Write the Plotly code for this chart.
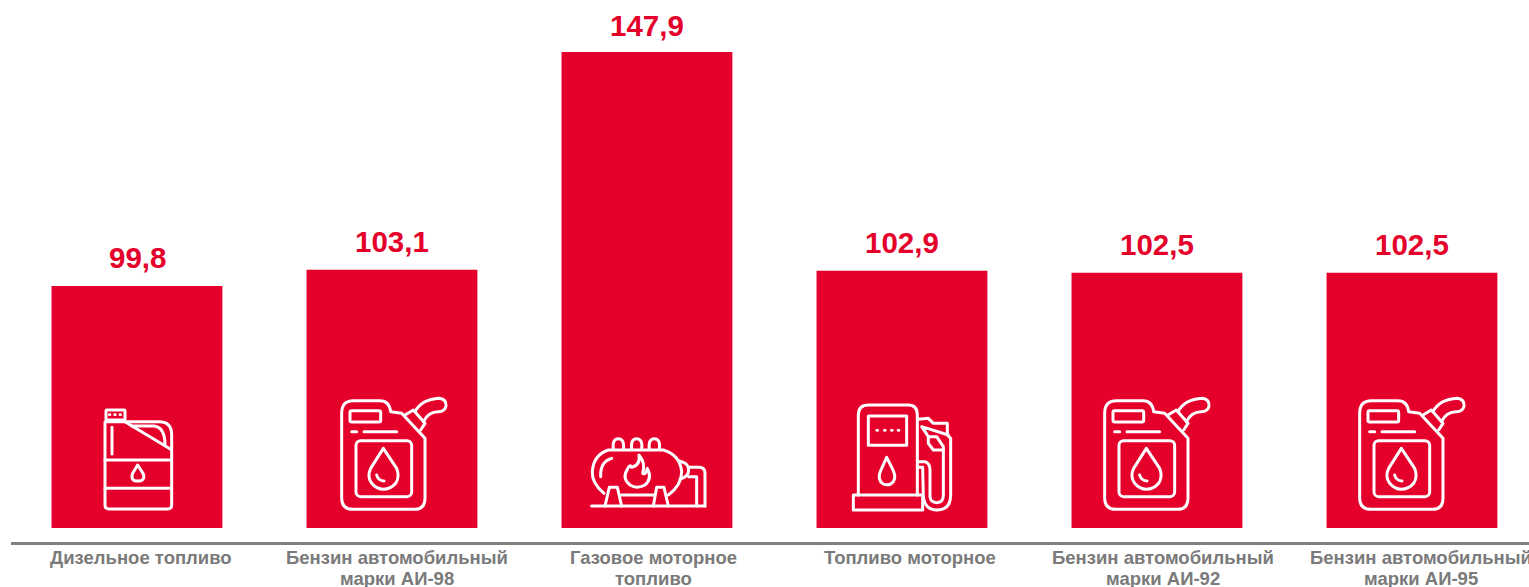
import base64
import plotly.graph_objects as go

categories = ["Дизельное топливо", "Бензин автомобильный марки АИ-98", "Газовое моторное топливо",
              "Топливо моторное", "Бензин автомобильный марки АИ-92", "Бензин автомобильный марки АИ-95"]
label_line1 = ["Дизельное топливо", "Бензин автомобильный", "Газовое моторное",
               "Топливо моторное", "Бензин автомобильный", "Бензин автомобильный"]
label_line2 = ["", "марки АИ-98", "топливо", "", "марки АИ-92", "марки АИ-95"]
values = [99.8, 103.1, 147.9, 102.9, 102.5, 102.5]
AXIS_BASE = 50

W, H = 1529, 587
ML, MB = 11, 45
RED = "#E4002B"
GREY = "#7F7F7F"
TEXT_GREY = "#7A7A7A"
FONT = "Liberation Sans, Arial, sans-serif"
LABEL_XSHIFT = [4, 5, 7, 8, 6.5, 9]
VALUE_YSHIFT = [10, 10, 8, 10, 10, 10]

CANISTER = """
<path d="M1025 100 Q1025 62 1060 62 L1140 62 Q1168 62 1172 95 L1205 100 L1275 175 L1275 355 Q1275 388 1245 388 L1058 388 Q1025 388 1025 355 Z"/>
<rect x="1050" y="92" width="92" height="34" rx="5"/>
<path d="M1055 155 L1070 155 M1092 155 L1190 155"/>
<rect x="1068" y="182" width="167" height="168" rx="14"/>
<path d="M1150 205 L1112 265 Q1100 290 1115 310 Q1130 328 1150 328 Q1172 328 1187 310 Q1200 290 1190 265 Z"/>
<path d="M1130 285 Q1134 302 1152 303"/>
<path d="M1215 105 L1240 90 L1275 130 L1262 150"/>
<path d="M1245 95 Q1265 58 1318 55 Q1340 58 1338 78 Q1335 95 1315 95 Q1285 95 1270 125"/>
"""
JERRYCAN = """
<rect x="318" y="90" width="57" height="30" rx="2"/>
<path d="M328 104 L330 104 M344 104 L346 104 M360 104 L362 104" stroke-width="8"/>
<path d="M315 125 L478 125 Q515 125 515 165 L515 375 Q515 387 503 387 L327 387 Q315 387 315 375 Z"/>
<path d="M375 125 L512 208"/>
<path d="M395 138 L462 138 Q495 142 495 195"/>
<path d="M336 142 L336 222"/>
<path d="M315 240 L515 240 M315 325 L515 325"/>
<path d="M413 255 L398 280 Q390 303 413 303 Q438 303 429 280 Z"/>
"""
GAS_TANK = """
<path d="M155 378 L495 378"/>
<path d="M192 340 Q155 310 157 275 Q160 225 205 210 L370 210 Q420 225 425 275 Q425 315 385 345"/>
<path d="M220 208 Q216 176 235 176 Q254 176 250 208 M275 208 Q271 176 290 176 Q309 176 305 208 M328 208 Q324 176 343 176 Q362 176 358 208"/>
<path d="M195 378 L208 322 L232 322 L245 378 M340 378 L350 322 L372 322 L385 378 M245 345 L340 345"/>
<path d="M182 290 Q180 245 215 235"/>
<path d="M297 225 Q302 255 275 262 Q270 250 262 268 Q245 295 270 315 Q290 328 315 315 Q338 295 322 265 Q318 285 308 280 Q318 250 297 225 Z"/>
<path d="M418 243 Q448 250 446 270 Q446 290 420 297"/>
<path d="M446 262 L480 262 Q495 264 495 280 L495 378 M470 378 L470 290 L446 290"/>
"""
PUMP = """
<path d="M955 345 L955 105 Q955 75 985 75 L1105 75 Q1132 75 1132 105 L1132 345"/>
<rect x="940" y="345" width="208" height="45"/>
<rect x="985" y="108" width="115" height="88"/>
<path d="M1010 151 L1013 151 M1033 151 L1036 151 M1054 151 L1057 151 M1074 151 L1077 151" stroke-width="8"/>
<path d="M1040 232 L1022 272 Q1010 300 1030 312 Q1040 317 1052 312 Q1072 300 1060 272 Z"/>
<path d="M1135 245 L1155 245 Q1170 250 1170 270 L1170 350 Q1172 368 1190 368 Q1210 368 1210 345 L1210 210"/>
<path d="M1135 262 L1148 262 L1150 350 Q1155 390 1190 390 Q1232 390 1232 345 L1232 175 L1222 165 L1222 130 L1180 130 L1165 115 L1135 118"/>
<path d="M1165 170 L1190 170 L1210 200 L1210 210 L1180 210 L1165 190 Z M1165 170 L1145 140 L1225 165"/>
"""


def icon_uri(body, x0, y0, w, h):
    svg = (f'<svg xmlns="http://www.w3.org/2000/svg" viewBox="{x0} {y0} {w} {h}" width="{w}" height="{h}">'
           f'<g fill="none" stroke="white" stroke-width="9" stroke-linecap="round" stroke-linejoin="round">{body}</g></svg>')
    return "data:image/svg+xml;base64," + base64.b64encode(svg.encode("utf-8")).decode()


def place(body, crop_x, crop_y, box, dx=0, dy=0):
    x0, y0, x1, y1 = box
    w, h = x1 - x0, y1 - y0
    left = crop_x + x0 / 3 + dx
    top = crop_y + y0 / 3 + dy
    return dict(source=icon_uri(body, x0, y0, w, h), xref="paper", yref="paper",
                x=(left - ML) / (W - ML), y=1 - top / (H - MB),
                sizex=(w / 3) / (W - ML), sizey=(h / 3) / (H - MB),
                xanchor="left", yanchor="top", sizing="stretch", layer="above")


CAN_BOX = (1010, 40, 1350, 400)
images = [
    place(JERRYCAN, 0, 380, (305, 80, 525, 397)),
    place(CANISTER, 0, 380, CAN_BOX),
    place(GAS_TANK, 540, 380, (145, 165, 505, 390)),
    place(PUMP, 540, 380, (930, 65, 1245, 400)),
    place(CANISTER, 0, 380, CAN_BOX, dx=763),
    place(CANISTER, 0, 380, CAN_BOX, dx=1018),
]

fig = go.Figure(go.Bar(
    x=categories,
    y=[v - AXIS_BASE for v in values],
    base=AXIS_BASE,
    marker=dict(color=RED, line_width=0),
    hovertext=[f"{v:.1f}".replace(".", ",") for v in values],
    hoverinfo="text",
))

for c, v, ys in zip(categories, values, VALUE_YSHIFT):
    fig.add_annotation(x=c, y=v, text=f"<b>{v:.1f}</b>".replace(".", ","), showarrow=False,
                       yanchor="bottom", yshift=ys, xshift=0.5,
                       font=dict(family=FONT, size=29.5, color=RED))

for c, a, b, s in zip(categories, label_line1, label_line2, LABEL_XSHIFT):
    for line, yshift in ((a, -15), (b, -36)):
        if line:
            fig.add_annotation(x=c, xref="x", y=0, yref="paper", text=f"<b>{line}</b>", showarrow=False,
                               xanchor="center", yanchor="middle", xshift=s, yshift=yshift, borderpad=0,
                               font=dict(family=FONT, size=18.5, color=TEXT_GREY))

fig.update_layout(
    width=W, height=H, autosize=False,
    margin=dict(l=ML, r=0, t=0, b=MB, pad=0),
    paper_bgcolor="white", plot_bgcolor="white",
    bargap=0.33, showlegend=False, images=images,
    font=dict(family=FONT),
)
fig.update_xaxes(
    type="category", categoryorder="array", categoryarray=categories,
    range=[-0.494, 5.459], showline=True, linecolor=GREY, linewidth=2.5,
    showgrid=False, zeroline=False, ticks="", showticklabels=False, automargin=False,
)
fig.update_yaxes(range=[47.12, 158.6], visible=False, showgrid=False, zeroline=False, automargin=False)

fig.write_html("out.html", config={"displayModeBar": False},
               post_script="document.body.style.margin='0';document.body.style.overflow='hidden';")
